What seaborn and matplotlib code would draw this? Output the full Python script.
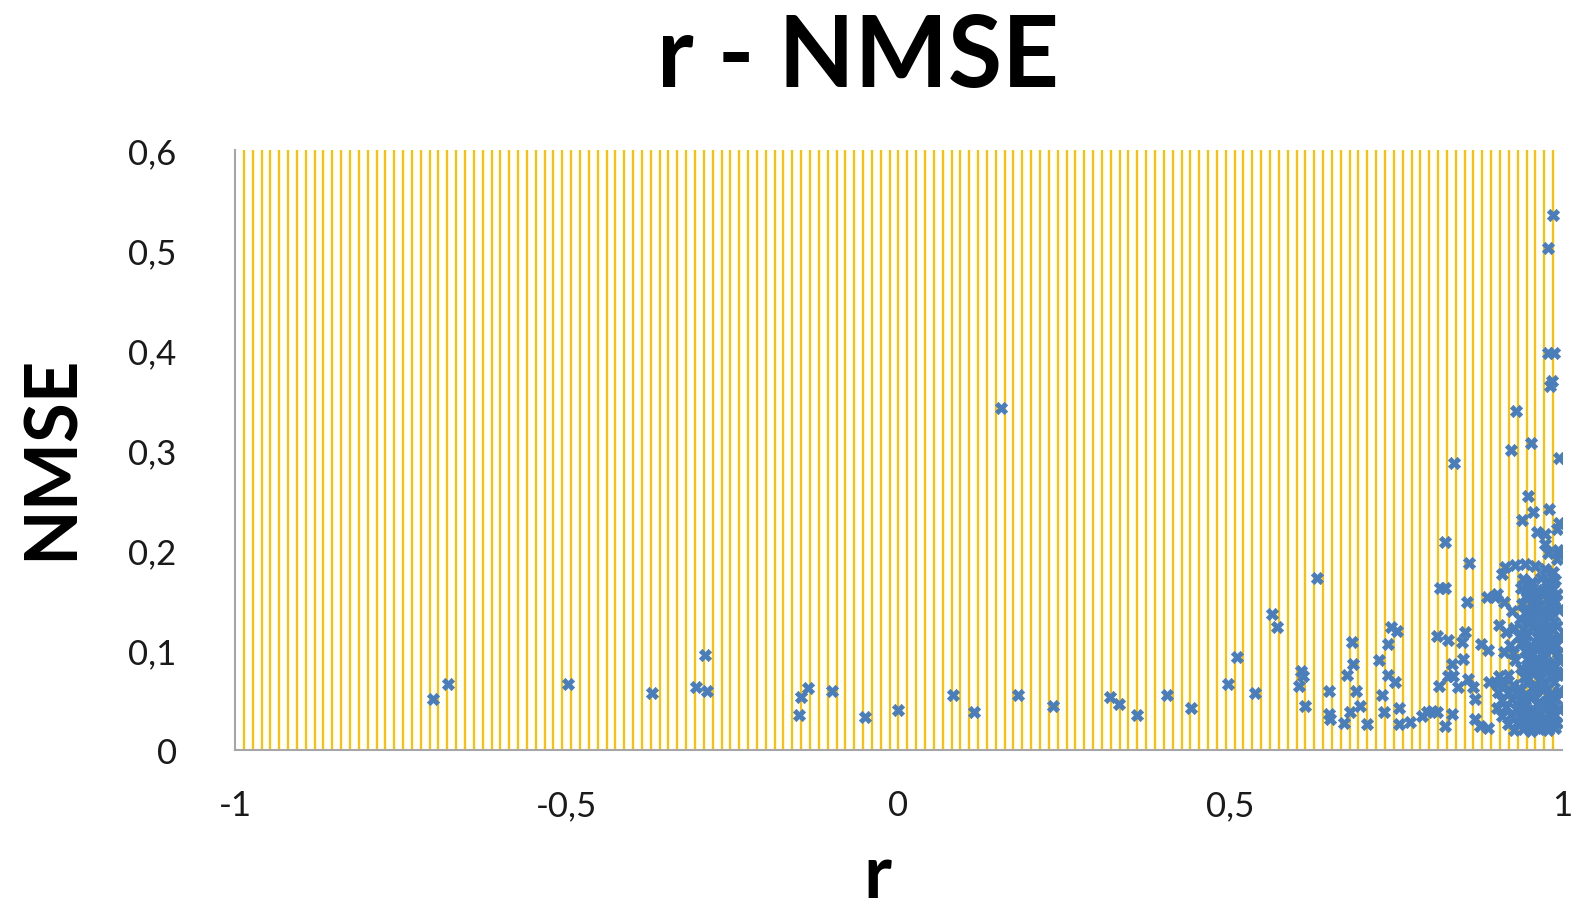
import numpy as np
import pandas as pd
import matplotlib
matplotlib.use('Agg')
import matplotlib.pyplot as plt
import seaborn as sns

# puntos sueltos, r bajo
r_sparse = [-0.702, -0.679, -0.498, -0.372, -0.305, -0.292, -0.289, -0.150, -0.147, -0.136,
            -0.100, -0.050, -0.001, 0.082, 0.114, 0.154, 0.180, 0.233, 0.319, 0.332,
            0.359, 0.405, 0.441, 0.497, 0.510, 0.537, 0.563, 0.570]
nmse_sparse = [0.051, 0.066, 0.066, 0.057, 0.063, 0.095, 0.059, 0.035, 0.053, 0.062,
               0.059, 0.033, 0.040, 0.055, 0.038, 0.342, 0.055, 0.044, 0.053, 0.046,
               0.035, 0.055, 0.042, 0.066, 0.093, 0.057, 0.136, 0.123]

# zona de transicion y valores altos
r_edge = [0.607, 0.610, 0.603, 0.613, 0.631,
          0.649, 0.649, 0.650, 0.672, 0.680, 0.683, 0.685, 0.676, 0.690, 0.696, 0.706,
          0.724, 0.738, 0.743, 0.751, 0.738, 0.748, 0.729, 0.732, 0.754, 0.754, 0.771,
          0.789, 0.797, 0.804, 0.812,
          0.812, 0.828, 0.815, 0.824, 0.834, 0.828, 0.836, 0.834,
          0.854, 0.849, 0.851, 0.843, 0.858, 0.869, 0.869, 0.857,
          0.816, 0.824, 0.824, 0.837, 0.860, 0.876, 0.888, 0.866, 0.902, 0.899, 0.887, 0.902, 0.913, 0.910,
          0.931, 0.923, 0.953, 0.995, 0.949, 0.956, 0.980, 0.940, 0.995, 0.993, 0.995, 0.992,
          0.962, 0.974, 0.974, 0.979, 0.994,
          0.986, 0.979, 0.979, 0.988, 0.985, 0.982]
nmse_edge = [0.079, 0.074, 0.064, 0.044, 0.172,
             0.059, 0.036, 0.031, 0.027, 0.038, 0.108, 0.086, 0.075, 0.059, 0.044, 0.026,
             0.090, 0.106, 0.123, 0.119, 0.075, 0.068, 0.055, 0.038, 0.042, 0.026, 0.028,
             0.034, 0.038, 0.039, 0.038,
             0.114, 0.110, 0.064, 0.024, 0.086, 0.074, 0.074, 0.036,
             0.118, 0.108, 0.091, 0.063, 0.071, 0.051, 0.031, 0.148,
             0.162, 0.162, 0.208, 0.287, 0.187, 0.024, 0.022, 0.063, 0.066, 0.153, 0.153, 0.156, 0.148, 0.176,
             0.339, 0.300, 0.307, 0.292, 0.254, 0.238, 0.241, 0.230, 0.227, 0.221, 0.196, 0.191,
             0.218, 0.216, 0.206, 0.197, 0.200,
             0.535, 0.502, 0.397, 0.397, 0.369, 0.364]

# nube densa cerca de r = 1
r_dense = [0.914, 0.929, 0.944, 0.959, 0.974, 0.986,
           0.941, 0.955, 0.968, 0.981, 0.990,
           0.938, 0.951, 0.963, 0.977, 0.986,
           0.946, 0.958, 0.972, 0.984, 0.993,
           0.940, 0.953, 0.965, 0.979, 0.990,
           0.925, 0.944, 0.957, 0.970, 0.983, 0.995,
           0.937, 0.949, 0.961, 0.975, 0.988,
           0.905, 0.928, 0.942, 0.955, 0.968, 0.980, 0.992,
           0.915, 0.935, 0.948, 0.962, 0.974, 0.987, 0.996,
           0.878, 0.921, 0.939, 0.952, 0.966, 0.978, 0.991,
           0.889, 0.912, 0.926, 0.944, 0.957, 0.971, 0.983, 0.994,
           0.930, 0.947, 0.960, 0.973, 0.986, 0.996,
           0.938, 0.951, 0.964, 0.977, 0.989,
           0.905, 0.919, 0.943, 0.956, 0.969, 0.982, 0.994,
           0.890, 0.912, 0.927, 0.948, 0.961, 0.975, 0.988,
           0.903, 0.918, 0.933, 0.946, 0.959, 0.972, 0.985, 0.995,
           0.910, 0.924, 0.939, 0.953, 0.966, 0.979, 0.991,
           0.902, 0.916, 0.931, 0.945, 0.958, 0.971, 0.984, 0.995,
           0.909, 0.923, 0.937, 0.950, 0.963, 0.976, 0.989,
           0.918, 0.932, 0.944, 0.957, 0.970, 0.982, 0.993,
           0.928, 0.941, 0.953, 0.966, 0.979,
           # relleno extra del nucleo
           0.948, 0.962, 0.976, 0.988, 0.952, 0.967, 0.981, 0.945, 0.959, 0.973,
           0.986, 0.950, 0.964, 0.978, 0.992, 0.936, 0.955, 0.969, 0.983, 0.942,
           0.957, 0.971, 0.985, 0.947, 0.961, 0.975, 0.989]
nmse_dense = [0.183, 0.185, 0.186, 0.184, 0.181, 0.178,
              0.171, 0.168, 0.172, 0.169, 0.170,
              0.162, 0.164, 0.160, 0.163, 0.161,
              0.154, 0.152, 0.155, 0.153, 0.156,
              0.146, 0.147, 0.144, 0.146, 0.148,
              0.139, 0.137, 0.139, 0.136, 0.138, 0.140,
              0.131, 0.129, 0.132, 0.130, 0.128,
              0.125, 0.122, 0.121, 0.123, 0.120, 0.122, 0.124,
              0.118, 0.114, 0.115, 0.113, 0.116, 0.112, 0.114,
              0.106, 0.105, 0.107, 0.104, 0.106, 0.108, 0.105,
              0.100, 0.098, 0.097, 0.099, 0.096, 0.098, 0.100, 0.097,
              0.090, 0.091, 0.089, 0.092, 0.088, 0.090,
              0.082, 0.081, 0.083, 0.080, 0.084,
              0.074, 0.075, 0.073, 0.076, 0.072, 0.074, 0.075,
              0.068, 0.066, 0.065, 0.067, 0.064, 0.066, 0.068,
              0.058, 0.057, 0.059, 0.056, 0.058, 0.060, 0.057, 0.059,
              0.050, 0.051, 0.049, 0.052, 0.048, 0.050, 0.051,
              0.042, 0.043, 0.041, 0.044, 0.040, 0.042, 0.043, 0.041,
              0.034, 0.035, 0.033, 0.036, 0.034, 0.032, 0.035,
              0.026, 0.027, 0.025, 0.027, 0.024, 0.026, 0.027,
              0.020, 0.021, 0.019, 0.021, 0.020,
              0.158, 0.150, 0.158, 0.150, 0.134, 0.126, 0.134, 0.110, 0.102, 0.110,
              0.102, 0.086, 0.078, 0.086, 0.078, 0.062, 0.054, 0.062, 0.054, 0.046,
              0.038, 0.046, 0.038, 0.030, 0.022, 0.030, 0.022]

x_ticks = [-1, -0.5, 0, 0.5, 1]
x_labels = ['-1', '-0,5', '0', '0,5', '1']
y_ticks = [0, 0.1, 0.2, 0.3, 0.4, 0.5, 0.6]
y_labels = ['0', '0,1', '0,2', '0,3', '0,4', '0,5', '0,6']

df = pd.DataFrame({'r': r_sparse + r_edge + r_dense,
                   'NMSE': nmse_sparse + nmse_edge + nmse_dense})

sns.set_style('white')
plt.rcParams['font.family'] = ['Lato', 'DejaVu Sans']

fig = plt.figure(figsize=(15.75, 9.12), dpi=100)
ax = fig.add_axes([0.1492, 0.1765, 0.8425, 0.6579])

# fondo de rayas verticales amarillas (relleno tipo excel)
ax.vlines(np.arange(1, 150) * 2 / 150 - 1, 0, 0.6, color='#FFC000', lw=1.6, zorder=0)

sns.scatterplot(data=df, x='r', y='NMSE', marker='X', s=78, color='#4A7EBB',
                edgecolor='#4A7EBB', linewidth=0.5, ax=ax, zorder=3)

ax.set_xlim(-1, 1)
ax.set_ylim(0, 0.6)
ax.set_xticks(x_ticks)
ax.set_xticklabels(x_labels, fontsize=25, color='#1a1a1a')
ax.set_yticks(y_ticks)
ax.set_yticklabels(y_labels, fontsize=25, color='#1a1a1a')
ax.tick_params(length=0, pad=28)
ax.tick_params(axis='y', pad=42)
ax.set_xlabel('')
ax.set_ylabel('')

for s in ['top', 'right']:
    ax.spines[s].set_visible(False)
for s in ['left', 'bottom']:
    ax.spines[s].set_color('#A6A6A6')
    ax.spines[s].set_linewidth(1.5)

fig.text(0.545, 0.905, 'r - NMSE', ha='center', va='baseline', fontsize=71,
         fontweight='bold', color='black')
fig.text(0.557, 0.001, 'r', ha='center', va='bottom', fontsize=54, fontweight='bold',
         color='black')
fig.text(0.033, 0.499, 'NMSE', ha='center', va='center', rotation=90, fontsize=52,
         fontweight='bold', color='black')

fig.savefig('out.png', dpi=100)
